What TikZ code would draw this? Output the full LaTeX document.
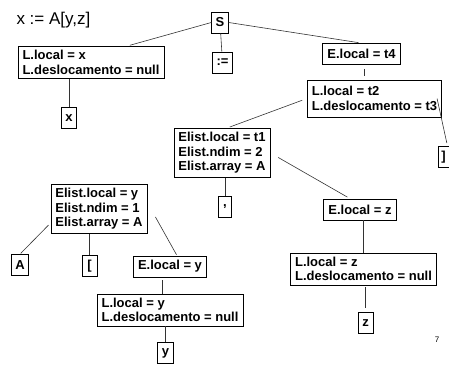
\documentclass[tikz,border=0pt]{standalone}
\usepackage{fontspec}
\setmainfont{Liberation Sans}
\begin{document}
\begin{tikzpicture}[
  x=1pt, y=-1pt,
  attr/.style={draw, line width=0.8pt, align=left, inner xsep=4.5pt, inner ysep=4pt,
               minimum height=21pt, font=\fontsize{13}{14.5}\selectfont\bfseries},
  leaf/.style={attr, inner xsep=4pt, minimum width=15pt},
  link/.style={line width=0.6pt, black!80}
]
  \useasboundingbox (0,0) rectangle (449,365);
  \node[anchor=west, font=\fontsize{17}{20}\selectfont] (expr) at (13,20) {x := A[y,z]};
  \node[leaf] (S) at (220,22.5) {S};
  \node[leaf] (assign) at (222.5,62.5) {:=};
  \node[attr] (Lx) at (91,62.5) {L.local = x\\L.deslocamento = null};
  \node[leaf] (xleaf) at (69,118) {x};
  \node[attr] (Et4) at (361.5,54) {E.local = t4};
  \node[attr, minimum height=37pt] (Lt2) at (374.5,98.5) {L.local = t2\\L.deslocamento = t3};
  \node[leaf, minimum width=11pt, inner xsep=3pt] (rbr) at (443.5,157) {]};
  \node[attr] (El1) at (222,153) {Elist.local = t1\\Elist.ndim = 2\\Elist.array = A};
  \node[leaf, minimum width=13pt] (comma) at (225,207) {,};
  \node[attr] (Ely) at (99,209) {Elist.local = y\\Elist.ndim = 1\\Elist.array = A};
  \node[leaf] (A) at (20,265) {A};
  \node[leaf] (lbr) at (89.5,266) {[};
  \node[attr] (Ey) at (170,266.5) {E.local = y};
  \node[attr] (Ly) at (170,310) {L.local = y\\L.deslocamento = null};
  \node[leaf] (yleaf) at (165.5,353) {y};
  \node[attr] (Ez) at (360,209.5) {E.local = z};
  \node[attr] (Lz) at (363.5,269) {L.local = z\\L.deslocamento = null};
  \node[leaf] (zleaf) at (365.5,323) {z};
  \node[font=\fontsize{8}{9}\selectfont] (page) at (437,340) {7};
  % arestas da arvore
  \draw[link, shorten >=3pt] (S.west) -- ([xshift=36pt]Lx.north);
  \draw[link] (S) -- (assign);
  \draw[link, shorten >=3pt] (S.east) -- (Et4.north);
  \draw[link] (xleaf.north |- Lx.south) -- (xleaf.north);
  \draw[link, shorten <=4pt, shorten >=4pt] ([xshift=3pt]Et4.south) -- ([xshift=3pt]Et4.south |- Lt2.north);
  \draw[link, shorten <=5pt, shorten >=3pt] (Lt2.west) -- ([xshift=5pt]El1.north);
  \draw[link, shorten >=3pt] ([xshift=-5pt]Lt2.east) -- ([xshift=4pt]rbr.north);
  \draw[link, shorten <=9pt, shorten >=3pt] (El1.east) -- ([xshift=-10pt]Ez.north);
  \draw[link] (comma.north |- El1.south) -- (comma.north);
  \draw[link, shorten <=3pt, shorten >=1pt] ([yshift=-14pt]Ely.west) -- (A.north);
  \draw[link] (lbr.north |- Ely.south) -- (lbr.north);
  \draw[link, shorten >=1pt] ([xshift=8pt, yshift=-8pt]Ely.east) -- ([xshift=7pt]Ey.north);
  \draw[link, shorten <=3pt] ([xshift=-8pt]Ey.south) -- ([xshift=-8pt]Ey.south |- Ly.north);
  \draw[link] (yleaf.north |- Ly.south) -- (yleaf.north);
  \draw[link] (Lz.north |- Ez.south) -- (Lz.north);
  \draw[link, shorten <=2pt, shorten >=4pt] (zleaf.north |- Lz.south) -- (zleaf.north);
\end{tikzpicture}
\end{document}
